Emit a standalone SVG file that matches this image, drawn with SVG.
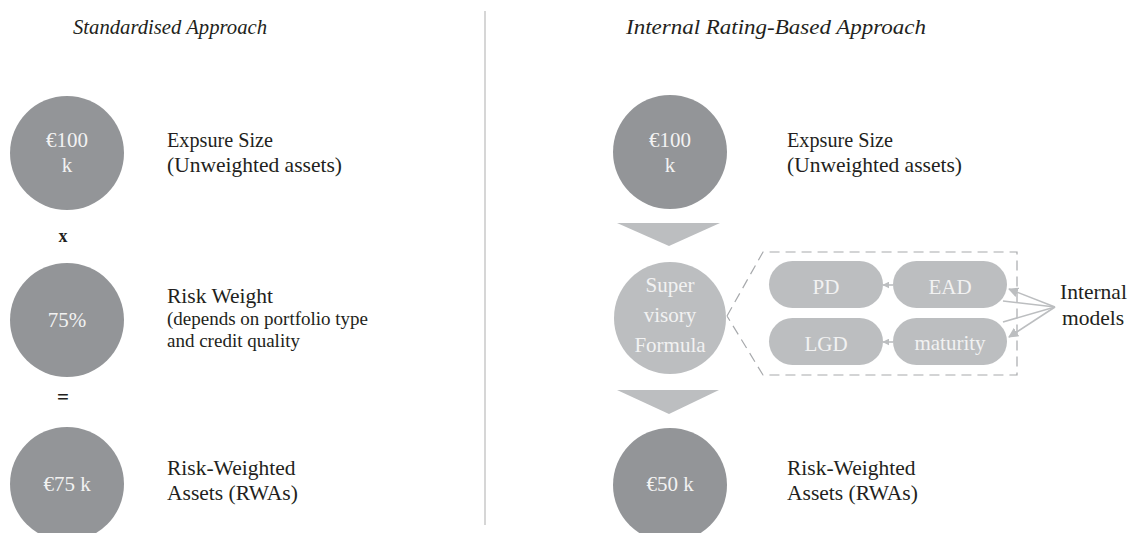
<svg xmlns="http://www.w3.org/2000/svg" width="1131" height="533" viewBox="0 0 1131 533">
<style>
.t{font-family:"Liberation Serif","Times New Roman",serif;fill:#231f20;font-size:21.5px}
.ti{font-family:"Liberation Serif","Times New Roman",serif;fill:#231f20;font-size:21px;font-style:italic}
.s{font-size:19px}
.w{font-family:"Liberation Serif","Times New Roman",serif;fill:#f2f2f2;font-size:21px;text-anchor:middle}
.dk{fill:#939598}
.lt{fill:#bcbec0}
.op{font-family:"Liberation Serif","Times New Roman",serif;fill:#231f20;font-weight:bold;text-anchor:middle}
.ln{stroke:#bcbec0;stroke-width:1.6;fill:none}
</style>
<defs>
<marker id="ah" viewBox="0 0 10 10" refX="9" refY="5" markerWidth="7" markerHeight="7" markerUnits="userSpaceOnUse" orient="auto"><path d="M0,0 L10,5 L0,10 Z" fill="#bcbec0"/></marker>
<marker id="ahb" viewBox="0 0 10 10" refX="9" refY="5" markerWidth="10" markerHeight="10" markerUnits="userSpaceOnUse" orient="auto"><path d="M0,0 L10,5 L0,10 Z" fill="#bcbec0"/></marker>
</defs>
<rect width="1131" height="533" fill="#ffffff"/>
<text class="ti" x="73" y="34" textLength="194" lengthAdjust="spacingAndGlyphs">Standardised Approach</text>
<text class="ti" x="626" y="34" textLength="300" lengthAdjust="spacingAndGlyphs">Internal Rating-Based Approach</text>
<line x1="485" y1="11" x2="485" y2="525" stroke="#c8c8c8" stroke-width="1.5"/>
<g id="connectors">
<polygon class="lt" points="617,223 720,223 669,246"/>
<polygon class="lt" points="617,390 719,390 669,414"/>
<polyline points="727,316 763,252 1017,252 1017,375 763,375 727,316" fill="none" stroke="#a7a9ac" stroke-width="1.2" stroke-dasharray="10,6"/>
<line class="ln" x1="893" y1="285" x2="883" y2="285" marker-end="url(#ah)"/>
<line class="ln" x1="893" y1="342" x2="883" y2="342" marker-end="url(#ah)"/>
<line class="ln" x1="1055" y1="307" x2="1009" y2="289" marker-end="url(#ahb)"/>
<line class="ln" x1="1055" y1="307" x2="1003" y2="301"/>
<line class="ln" x1="1055" y1="307" x2="1003" y2="322"/>
<line class="ln" x1="1055" y1="307" x2="1009" y2="337" marker-end="url(#ahb)"/>
</g>
<g id="sa-exposure">
<circle class="dk" cx="67" cy="153" r="57"/>
<text class="w" x="67" y="147">€100</text>
<text class="w" x="67" y="172">k</text>
<text class="t" x="167" y="147" textLength="106" lengthAdjust="spacingAndGlyphs">Expsure Size</text>
<text class="t" x="167" y="172">(Unweighted assets)</text>
</g>
<text class="op" x="63" y="242" font-size="18">x</text>
<g id="sa-weight">
<circle class="dk" cx="67" cy="320" r="57"/>
<text class="w" x="67" y="327">75%</text>
<text class="t" x="167" y="303">Risk Weight</text>
<text class="t s" x="167" y="325">(depends on portfolio type</text>
<text class="t s" x="167" y="347">and credit quality</text>
</g>
<text class="op" x="63" y="404" font-size="21">=</text>
<g id="sa-rwa">
<circle class="dk" cx="67" cy="484" r="57"/>
<text class="w" x="67" y="491">€75 k</text>
<text class="t" x="167" y="475">Risk-Weighted</text>
<text class="t" x="167" y="500">Assets (RWAs)</text>
</g>
<g id="irb-exposure">
<circle class="dk" cx="670" cy="152" r="57"/>
<text class="w" x="670" y="147">€100</text>
<text class="w" x="670" y="172">k</text>
<text class="t" x="787" y="147" textLength="106" lengthAdjust="spacingAndGlyphs">Expsure Size</text>
<text class="t" x="787" y="172">(Unweighted assets)</text>
</g>
<g id="irb-formula">
<circle class="lt" cx="670" cy="318" r="56"/>
<text class="w" x="670" y="292">Super</text>
<text class="w" x="670" y="322">visory</text>
<text class="w" x="670" y="352">Formula</text>
</g>
<g id="pd"><rect class="lt" x="769" y="261" width="114" height="47" rx="23.5"/><text class="w" x="826" y="294">PD</text></g>
<g id="ead"><rect class="lt" x="893" y="261" width="114" height="47" rx="23.5"/><text class="w" x="950" y="294">EAD</text></g>
<g id="lgd"><rect class="lt" x="769" y="318" width="114" height="47" rx="23.5"/><text class="w" x="826" y="351">LGD</text></g>
<g id="maturity"><rect class="lt" x="893" y="318" width="114" height="47" rx="23.5"/><text class="w" x="950" y="350">maturity</text></g>
<g id="internal-models">
<text class="t" x="1060" y="299" font-size="22">Internal</text>
<text class="t" x="1062" y="325" font-size="22">models</text>
</g>
<g id="irb-rwa">
<circle class="dk" cx="670" cy="485" r="57"/>
<text class="w" x="670" y="491">€50 k</text>
<text class="t" x="787" y="475">Risk-Weighted</text>
<text class="t" x="787" y="500">Assets (RWAs)</text>
</g>
</svg>
